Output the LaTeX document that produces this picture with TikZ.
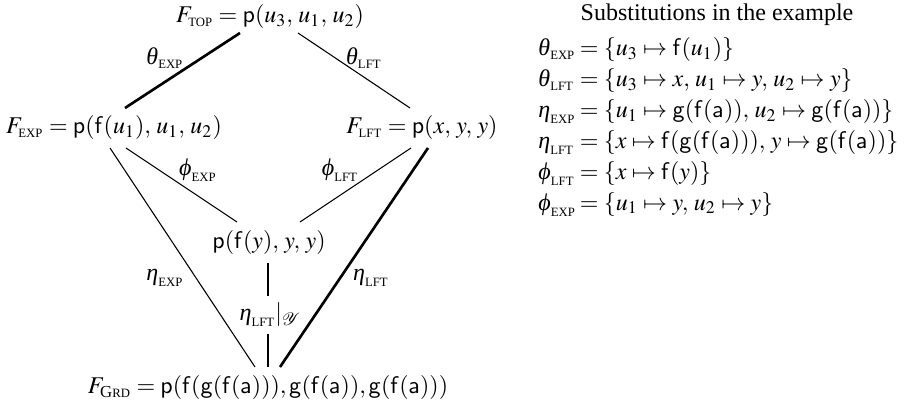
\documentclass[tikz,border=0pt]{standalone}
\usepackage{amsmath}
\usepackage{mathptmx}
\usepackage{fontspec}
\setmainfont{Liberation Serif}
\setsansfont{Liberation Sans}
\usetikzlibrary{calc}
\newcommand\sck[1]{\mbox{\fontsize{5.3}{6}\selectfont #1}}
\newcommand\grdsub{\mbox{\fontsize{7}{8}\selectfont G\fontsize{5.3}{6}\selectfont RD}}
\newcommand\fsym[1]{\mathsf{#1}}
\newcommand\gth{\mbox{\itshape θ}}
\newcommand\get{\mbox{\itshape η}}
\newcommand\gph{\mbox{\itshape ϕ}}
\newcommand\sublbl[1]{\makebox[15pt][l]{$#1$}}

\begin{document}
\begin{tikzpicture}[
  x=0.4167pt, y=-0.4167pt,
  term/.style={inner sep=0pt},
  lbl/.style={inner sep=0pt},
  light/.style={line width=0.45pt},
  heavy/.style={line width=1.1pt}
]
\useasboundingbox (0,0) rectangle (906,407);
% lattice of terms
\node[term] (top) at (270,17) {$F_{\sck{TOP}} = \fsym{p}(u_3,\, u_1,\, u_2)$};
\node[term] (exp) at (114,128) {$F_{\sck{EXP}} = \fsym{p}(\fsym{f}(u_1),\, u_1,\, u_2)$};
\node[term] (lft) at (422,128) {$F_{\sck{LFT}} = \fsym{p}(x,\, y,\, y)$};
\node[term] (mid) at (269,243) {$\fsym{p}(\fsym{f}(y),\, y,\, y)$};
\node[term] (grd) at (268,388) {$F_{\grdsub} = \fsym{p}(\fsym{f}(\fsym{g}(\fsym{f}(\fsym{a}))), \fsym{g}(\fsym{f}(\fsym{a})), \fsym{g}(\fsym{f}(\fsym{a})))$};
% edges
\draw[heavy] ($(top)+(-30,16)$) -- ($(exp)+(11,-20)$);
\draw[light] ($(top)+(28,16)$) -- ($(lft)+(-12,-20)$);
\draw[light] ($(exp)+(12,20)$) -- ($(mid)+(-32,-21)$);
\draw[light] ($(lft)+(-11,20)$) -- ($(mid)+(31,-21)$);
\draw[light] ($(exp)+(-4,20)$) -- ($(grd)+(-13,-21)$);
\draw[heavy] ($(lft)+(6,20)$) -- ($(grd)+(12,-21)$);
\draw[heavy] ($(mid)+(-1,20)$) -- node[fill=white, inner xsep=0pt, inner ysep=3pt, xshift=1pt] (restr) {$\get_{\sck{LFT}}|_{\mathcal{Y}}$} ($(grd)+(0,-21)$);
% edge labels
\node[lbl] (thexp) at (165,58) {$\gth_{\sck{EXP}}$};
\node[lbl] (thlft) at (364,58) {$\gth_{\sck{LFT}}$};
\node[lbl] (phexp) at (198,170) {$\gph_{\sck{EXP}}$};
\node[lbl] (phlft) at (340,170) {$\gph_{\sck{LFT}}$};
\node[lbl] (etexp) at (165,278) {$\get_{\sck{EXP}}$};
\node[lbl] (etlft) at (371,278) {$\get_{\sck{LFT}}$};
% substitution list
\node (title) at (717,15) {Substitutions in the example};
\node[anchor=north west, inner sep=0pt, align=left, font={\fontsize{10}{12.9}\selectfont}] (subs) at (538,37) {%
\sublbl{\gth_{\sck{EXP}}}$\;= \{u_3 \mapsto \fsym{f}(u_1)\}$\\
\sublbl{\gth_{\sck{LFT}}}$\;= \{u_3 \mapsto x,\, u_1 \mapsto y,\, u_2 \mapsto y\}$\\
\sublbl{\get_{\sck{EXP}}}$\;= \{u_1 \mapsto \fsym{g}(\fsym{f}(\fsym{a})),\, u_2 \mapsto \fsym{g}(\fsym{f}(\fsym{a}))\}$\\
\sublbl{\get_{\sck{LFT}}}$\;= \{x \mapsto \fsym{f}(\fsym{g}(\fsym{f}(\fsym{a}))),\, y \mapsto \fsym{g}(\fsym{f}(\fsym{a}))\}$\\
\sublbl{\gph_{\sck{LFT}}}$\;= \{x \mapsto \fsym{f}(y)\}$\\
\sublbl{\gph_{\sck{EXP}}}$\;= \{u_1 \mapsto y,\, u_2 \mapsto y\}$};
\end{tikzpicture}
\end{document}
